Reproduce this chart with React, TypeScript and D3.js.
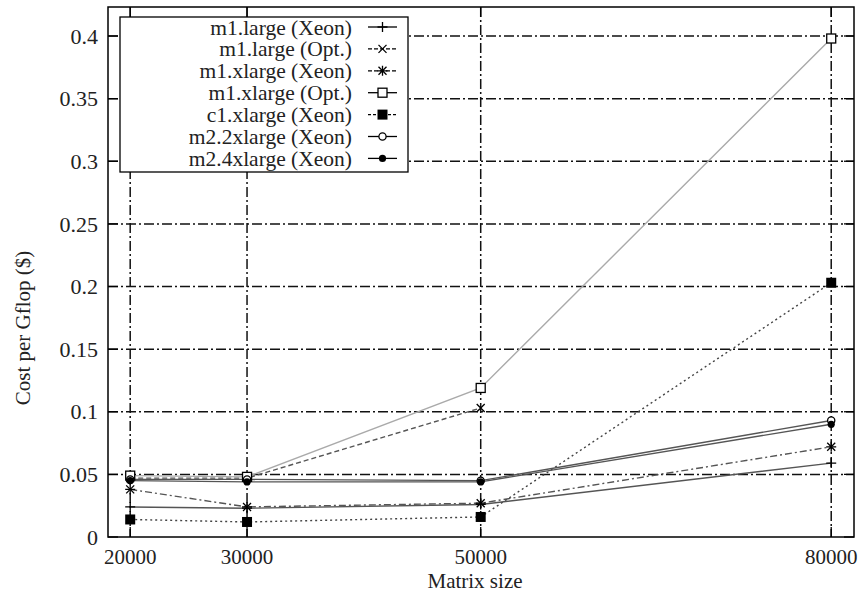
import React, { useEffect, useRef } from 'react';
import * as d3 from 'd3';

// matrix sizes on the x axis
const matrixSizes = [20000, 30000, 50000, 80000];

// cost per Gflop ($) per instance type, null = no run
const m1LargeXeon = [0.024, 0.023, 0.026, 0.059];
const m1LargeOpt = [0.047, 0.047, 0.103, null];
const m1XlargeXeon = [0.038, 0.024, 0.027, 0.072];
const m1XlargeOpt = [0.049, 0.048, 0.119, 0.398];
const c1XlargeXeon = [0.014, 0.012, 0.016, 0.203];
const m22xlargeXeon = [0.046, 0.046, 0.045, 0.093];
const m24xlargeXeon = [0.045, 0.044, 0.044, 0.090];

const seriesNames = [
  'm1.large (Xeon)',
  'm1.large (Opt.)',
  'm1.xlarge (Xeon)',
  'm1.xlarge (Opt.)',
  'c1.xlarge (Xeon)',
  'm2.2xlarge (Xeon)',
  'm2.4xlarge (Xeon)',
];
const seriesValues = [m1LargeXeon, m1LargeOpt, m1XlargeXeon, m1XlargeOpt, c1XlargeXeon, m22xlargeXeon, m24xlargeXeon];

const yTicks = [0, 0.05, 0.1, 0.15, 0.2, 0.25, 0.3, 0.35, 0.4];

type Style = { stroke: string; dash: string | null; marker: string };
const styles: Style[] = [
  { stroke: '#555', dash: null, marker: 'plus' },
  { stroke: '#555', dash: '5,3', marker: 'cross' },
  { stroke: '#555', dash: '7,3,2,3', marker: 'star' },
  { stroke: '#aaa', dash: null, marker: 'square' },
  { stroke: '#444', dash: '2,3', marker: 'fsquare' },
  { stroke: '#555', dash: null, marker: 'circle' },
  { stroke: '#555', dash: null, marker: 'fcircle' },
];

const FONT = '"Liberation Serif", "DejaVu Serif", serif';

function drawMarker(g: any, kind: string, cx: number, cy: number) {
  const s = 5;
  if (kind === 'plus' || kind === 'star') {
    g.append('path').attr('d', `M${cx - s},${cy}H${cx + s}M${cx},${cy - s}V${cy + s}`)
      .attr('stroke', '#000').attr('stroke-width', 1.3).attr('fill', 'none');
  }
  if (kind === 'cross' || kind === 'star') {
    const t = 4;
    g.append('path').attr('d', `M${cx - t},${cy - t}L${cx + t},${cy + t}M${cx - t},${cy + t}L${cx + t},${cy - t}`)
      .attr('stroke', '#000').attr('stroke-width', 1.3).attr('fill', 'none');
  }
  if (kind === 'square') {
    g.append('rect').attr('x', cx - 4.5).attr('y', cy - 4.5).attr('width', 9).attr('height', 9)
      .attr('fill', '#fff').attr('stroke', '#000').attr('stroke-width', 1.3);
  }
  if (kind === 'fsquare') {
    g.append('rect').attr('x', cx - 5).attr('y', cy - 5).attr('width', 10).attr('height', 10)
      .attr('fill', '#000');
  }
  if (kind === 'circle') {
    g.append('circle').attr('cx', cx).attr('cy', cy).attr('r', 3.6)
      .attr('fill', '#fff').attr('stroke', '#000').attr('stroke-width', 1.3);
  }
  if (kind === 'fcircle') {
    g.append('circle').attr('cx', cx).attr('cy', cy).attr('r', 3.6).attr('fill', '#000');
  }
}

function CostChart() {
  const svgRef = useRef<SVGSVGElement>(null);

  useEffect(() => {
    const width = 866;
    const height = 595;
    const svg = d3.select(svgRef.current);
    svg.html('');

    const left = 108, right = 854, top = 7, bottom = 537;
    const x = d3.scaleLinear().domain([18100, 81950]).range([left, right]);
    const y = d3.scaleLinear().domain([0, 0.4]).range([bottom, 36]);

    svg.attr('width', width).attr('height', height)
      .style('font-family', FONT);

    const grid = svg.append('g');
    const gridDash = '10,3,2,3';
    // horizontal grid
    grid.selectAll('line.h')
      .data(yTicks.slice(1))
      .join('line')
      .attr('x1', left).attr('x2', right)
      .attr('y1', d => y(d)).attr('y2', d => y(d))
      .attr('stroke', '#111').attr('stroke-width', 1.5)
      .attr('stroke-dasharray', gridDash);
    // vertical grid
    grid.selectAll('line.v')
      .data(matrixSizes)
      .join('line')
      .attr('class', 'v')
      .attr('x1', d => x(d)).attr('x2', d => x(d))
      .attr('y1', top).attr('y2', bottom)
      .attr('stroke', '#111').attr('stroke-width', 1.5)
      .attr('stroke-dasharray', gridDash);

    // tick marks (inside, both sides)
    const tl = 10;
    yTicks.forEach(t => {
      svg.append('line').attr('x1', left).attr('x2', left + tl).attr('y1', y(t)).attr('y2', y(t))
        .attr('stroke', '#000').attr('stroke-width', 1.3);
      svg.append('line').attr('x1', right - tl).attr('x2', right).attr('y1', y(t)).attr('y2', y(t))
        .attr('stroke', '#000').attr('stroke-width', 1.3);
    });
    matrixSizes.forEach(t => {
      svg.append('line').attr('x1', x(t)).attr('x2', x(t)).attr('y1', bottom).attr('y2', bottom - tl)
        .attr('stroke', '#000').attr('stroke-width', 1.3);
      svg.append('line').attr('x1', x(t)).attr('x2', x(t)).attr('y1', top).attr('y2', top + tl)
        .attr('stroke', '#000').attr('stroke-width', 1.3);
    });

    // series lines
    seriesValues.forEach((vals, i) => {
      const st = styles[i];
      const pts = matrixSizes.map((m, k) => [m, vals[k]] as [number, number | null])
        .filter(p => p[1] !== null) as [number, number][];
      const line = d3.line<[number, number]>().x(d => x(d[0])).y(d => y(d[1]));
      svg.append('path')
        .attr('d', line(pts))
        .attr('fill', 'none')
        .attr('stroke', st.stroke)
        .attr('stroke-width', 1.4)
        .attr('stroke-dasharray', st.dash);
    });
    seriesValues.forEach((vals, i) => {
      const g = svg.append('g');
      matrixSizes.forEach((m, k) => {
        const v = vals[k];
        if (v !== null) drawMarker(g, styles[i].marker, x(m), y(v));
      });
    });

    // frame
    svg.append('rect').attr('x', left).attr('y', top)
      .attr('width', right - left).attr('height', bottom - top)
      .attr('fill', 'none').attr('stroke', '#000').attr('stroke-width', 1.5);

    // legend
    const lg = svg.append('g');
    lg.append('rect').attr('x', 120).attr('y', 17).attr('width', 288).attr('height', 155)
      .attr('fill', '#fff').attr('stroke', '#000').attr('stroke-width', 1.3);
    seriesNames.forEach((name, i) => {
      const cy = 27 + i * 21.9;
      const st = styles[i];
      lg.append('text').attr('x', 352).attr('y', cy).attr('dy', '0.35em')
        .attr('text-anchor', 'end').attr('font-size', 21.5).attr('fill', '#222')
        .text(name);
      lg.append('line').attr('x1', 368).attr('x2', 397).attr('y1', cy).attr('y2', cy)
        .attr('stroke', '#000').attr('stroke-width', 1.3)
        .attr('stroke-dasharray', st.dash ? (st.dash === '2,3' ? '3,2' : '4,2') : null);
      drawMarker(lg, st.marker, 382.5, cy);
    });

    // y tick labels
    svg.append('g').selectAll('text')
      .data(yTicks)
      .join('text')
      .attr('x', 98).attr('y', d => y(d)).attr('dy', '0.35em')
      .attr('text-anchor', 'end').attr('font-size', 22).attr('fill', '#222')
      .text(d => String(d));

    // x tick labels
    svg.append('g').selectAll('text')
      .data(matrixSizes)
      .join('text')
      .attr('x', d => x(d)).attr('y', 564)
      .attr('text-anchor', 'middle').attr('font-size', 21).attr('fill', '#222')
      .text(d => String(d));

    svg.append('text').attr('x', 475).attr('y', 588)
      .attr('text-anchor', 'middle').attr('font-size', 21).attr('fill', '#222')
      .text('Matrix size');

    svg.append('text')
      .attr('transform', `translate(30,${328}) rotate(-90)`)
      .attr('text-anchor', 'middle').attr('font-size', 21).attr('fill', '#222')
      .text('Cost per Gflop ($)');
  }, []);

  return <svg ref={svgRef} style={{ display: 'block' }}></svg>;
}

export default function App() {
  return (
    <div style={{ position: 'absolute', left: 0, top: 0 }}>
      <CostChart />
    </div>
  );
}
